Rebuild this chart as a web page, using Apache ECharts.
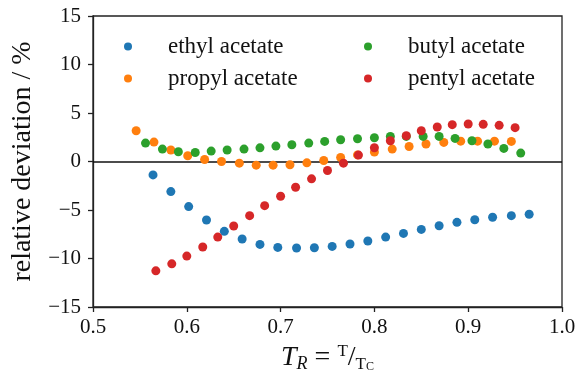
<!DOCTYPE html>
<html>
<head>
<meta charset="utf-8">
<script src="https://cdn.jsdelivr.net/npm/echarts@6/dist/echarts.min.js"></script>
<style>html,body{margin:0;padding:0;background:#fff}#c{width:577px;height:372px}</style>
</head>
<body>
<div id="c"></div>
<script>
// Relative deviation (%) versus reduced temperature T_R for four acetates
const ethylTR = [0.564, 0.583, 0.602, 0.621, 0.640, 0.659, 0.678, 0.697, 0.717, 0.736, 0.755, 0.774, 0.793, 0.812, 0.831, 0.850, 0.869, 0.888, 0.907, 0.926, 0.946, 0.965];
const ethylDev = [-1.38, -3.1, -4.65, -6.03, -7.2, -7.99, -8.55, -8.86, -8.92, -8.89, -8.75, -8.51, -8.2, -7.79, -7.41, -7.0, -6.62, -6.27, -6.0, -5.75, -5.58, -5.44];

const propylTR = [0.546, 0.565, 0.583, 0.601, 0.619, 0.637, 0.656, 0.674, 0.692, 0.710, 0.728, 0.746, 0.764, 0.782, 0.800, 0.819, 0.837, 0.855, 0.874, 0.892, 0.910, 0.928, 0.946];
const propylDev = [3.17, 2.0, 1.18, 0.59, 0.21, 0.0, -0.17, -0.38, -0.38, -0.34, -0.14, 0.1, 0.41, 0.68, 0.97, 1.28, 1.55, 1.8, 1.97, 2.1, 2.1, 2.1, 2.07];

const butylTR = [0.556, 0.574, 0.591, 0.609, 0.626, 0.643, 0.661, 0.678, 0.695, 0.712, 0.730, 0.747, 0.764, 0.782, 0.800, 0.817, 0.834, 0.852, 0.869, 0.886, 0.904, 0.921, 0.938, 0.956];
const butylDev = [1.9, 1.28, 1.0, 0.93, 1.07, 1.18, 1.28, 1.41, 1.59, 1.73, 1.9, 2.07, 2.24, 2.35, 2.45, 2.59, 2.59, 2.59, 2.59, 2.38, 2.14, 1.8, 1.35, 0.87];

const pentylTR = [0.567, 0.584, 0.600, 0.617, 0.633, 0.650, 0.667, 0.683, 0.700, 0.716, 0.733, 0.750, 0.767, 0.783, 0.800, 0.817, 0.834, 0.850, 0.867, 0.883, 0.900, 0.916, 0.933, 0.950];
const pentylDev = [-11.27, -10.55, -9.75, -8.82, -7.79, -6.65, -5.58, -4.55, -3.58, -2.65, -1.79, -0.93, -0.17, 0.66, 1.42, 2.14, 2.66, 3.17, 3.56, 3.8, 3.87, 3.83, 3.73, 3.49];

const seriesNames = ['ethyl acetate', 'propyl acetate', 'butyl acetate', 'pentyl acetate'];
const seriesColors = ['#1f77b4', '#ff7f0e', '#2ca02c', '#d62728'];
const xTicks = [0.5, 0.6, 0.7, 0.8, 0.9, 1.0];
const yTicks = [-15, -10, -5, 0, 5, 10, 15];

const FONT = '"Liberation Serif", "DejaVu Serif", serif';
const INK = '#111';
const pairs = (xs, ys) => xs.map((x, i) => [x, ys[i]]);
const allData = [pairs(ethylTR, ethylDev), pairs(propylTR, propylDev), pairs(butylTR, butylDev), pairs(pentylTR, pentylDev)];

const chart = echarts.init(document.getElementById('c'), null, { renderer: 'canvas' });

const legendBase = {
  orient: 'vertical',
  icon: 'circle',
  itemWidth: 8,
  itemHeight: 8,
  itemGap: 9,
  selectedMode: false,
  textStyle: { fontFamily: FONT, fontSize: 23, color: INK, padding: [0, 0, 0, 31] }
};

const axisLineStyle = { color: '#222', width: 1.3 };

chart.setOption({
  animation: false,
  color: seriesColors,
  grid: {
    left: 93, right: 15, top: 16, bottom: 65,
    outerBoundsMode: 'none', containLabel: false,
    show: true, borderColor: '#222', borderWidth: 1.3, backgroundColor: 'transparent'
  },
  legend: [
    Object.assign({}, legendBase, { left: 119, top: 30, data: [seriesNames[0], seriesNames[1]] }),
    Object.assign({}, legendBase, { left: 359, top: 30, data: [seriesNames[2], seriesNames[3]] })
  ],
  xAxis: {
    type: 'value', min: xTicks[0], max: xTicks[xTicks.length - 1], interval: 0.1,
    name: '{it|T}{sub|R}{eq| = }{num|T}{sl|/}{den|T}{dsub|C}',
    nameLocation: 'middle', nameGap: 36,
    nameTextStyle: {
      fontFamily: FONT, color: INK,
      rich: {
        it: { fontFamily: FONT, fontSize: 28, fontStyle: 'italic', color: INK },
        sub: { fontFamily: FONT, fontSize: 18, fontStyle: 'italic', color: INK, verticalAlign: 'bottom', padding: [12, 0, 0, 0] },
        eq: { fontFamily: FONT, fontSize: 28, color: INK },
        num: { fontFamily: FONT, fontSize: 17, color: INK, verticalAlign: 'top', padding: [0, 0, 9, 0] },
        sl: { fontFamily: FONT, fontSize: 28, color: INK },
        den: { fontFamily: FONT, fontSize: 17, color: INK, verticalAlign: 'bottom', padding: [9, 0, 0, 0] },
        dsub: { fontFamily: FONT, fontSize: 12, color: INK, verticalAlign: 'bottom', padding: [9, 0, 0, 0] }
      }
    },
    axisLine: { show: true, onZero: false, lineStyle: axisLineStyle },
    axisTick: { show: true, inside: false, length: 5, lineStyle: axisLineStyle },
    axisLabel: { fontFamily: FONT, fontSize: 21, color: INK, margin: 10, formatter: v => v.toFixed(1) },
    splitLine: { show: false }
  },
  yAxis: {
    type: 'value', min: yTicks[0], max: yTicks[yTicks.length - 1], interval: 5,
    name: 'relative deviation / %',
    nameLocation: 'middle', nameGap: 56,
    nameTextStyle: { fontFamily: FONT, fontSize: 28, color: INK },
    axisLine: { show: true, onZero: false, lineStyle: axisLineStyle },
    axisTick: { show: true, inside: false, length: 5, lineStyle: axisLineStyle },
    axisLabel: { fontFamily: FONT, fontSize: 21, color: INK, margin: 12, formatter: v => String(v).replace('-', '\u2212') },
    splitLine: { show: false }
  },
  series: seriesNames.map((name, i) => ({
    name: name,
    type: 'scatter',
    data: allData[i],
    symbol: 'circle',
    symbolSize: 9,
    itemStyle: { color: seriesColors[i], opacity: 1 },
    z: 3 + i,
    markLine: i === 0 ? {
      silent: true, symbol: 'none', label: { show: false },
      lineStyle: { color: INK, width: 1.5, type: 'solid' },
      data: [{ yAxis: 0 }], z: 2
    } : undefined
  }))
});
</script>
</body>
</html>
